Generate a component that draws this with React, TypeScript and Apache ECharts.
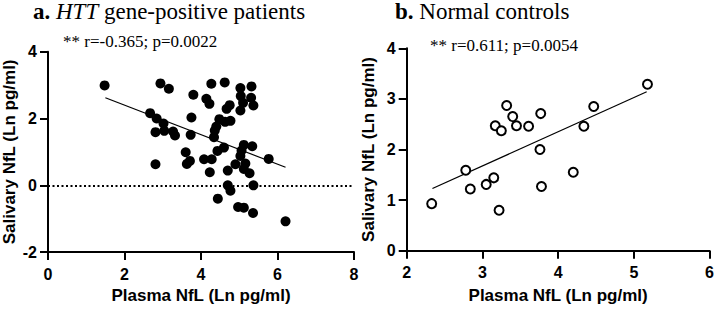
import React, { useEffect, useRef } from "react";
import * as echarts from "echarts";

// Panel a: HTT gene-positive patients (filled points)
const patientsPlasma = [
  1.48, 2.94, 3.16, 2.67, 2.84, 3.02, 2.81, 3.04, 3.27, 3.32, 2.81, 3.6, 3.63, 3.71, 4.08,
  4.28, 4.23, 3.8, 4.27, 4.62, 5.03, 5.32, 4.14, 4.22, 5.04, 5.31, 5.1, 5.37, 4.75, 4.67,
  5.03, 3.75, 4.48, 4.77, 4.63, 4.4, 4.36, 3.73, 4.34, 5.12, 5.34, 4.6, 4.43, 5.06, 5.03,
  5.77, 4.9, 5.16, 5.12, 5.27, 4.7, 4.7, 4.77, 5.37, 4.44, 4.97, 5.12, 5.36, 6.21,
];
const patientsSaliva = [
  2.99, 3.05, 2.89, 2.16, 2.0, 1.85, 1.59, 1.63, 1.61, 1.49, 0.63, 0.99, 0.64, 0.73, 0.78,
  0.78, 0.39, 2.71, 3.04, 3.08, 2.91, 2.96, 2.59, 2.44, 2.67, 2.62, 2.47, 2.39, 2.4, 2.29,
  2.24, 2.03, 1.98, 1.93, 1.9, 1.76, 1.64, 1.51, 1.44, 1.21, 1.17, 1.13, 1.03, 1.04, 0.88,
  0.79, 0.63, 0.65, 0.49, 0.36, 0.44, 0.0, -0.16, 0.0, -0.4, -0.65, -0.67, -0.83, -1.08,
];
const patientsFitX = [1.5, 6.21];
const patientsFitY = [2.62, 0.54];

// Panel b: Normal controls (open points)
const controlsPlasma = [
  2.33, 2.78, 2.84, 3.05, 3.15, 3.22, 3.17, 3.25, 3.32, 3.4, 3.45, 3.61, 3.77, 3.76, 3.78,
  4.2, 4.34, 4.47, 5.18,
];
const controlsSaliva = [
  0.93, 1.59, 1.22, 1.31, 1.44, 0.8, 2.47, 2.37, 2.87, 2.65, 2.47, 2.46, 2.71, 2.0, 1.27,
  1.55, 2.46, 2.85, 3.29,
];
const controlsFitX = [2.34, 5.17];
const controlsFitY = [1.23, 3.14];

const xTicksA = [0, 2, 4, 6, 8];
const yTicksA = [-2, 0, 2, 4];
const xTicksB = [2, 3, 4, 5, 6];
const yTicksB = [0, 1, 2, 3, 4];

const SANS = "Liberation Sans";
const SERIF = "Liberation Serif";

function zip(xs: number[], ys: number[]) {
  return xs.map((x, i) => [x, ys[i]]);
}

function makeAxis(kind: "x" | "y", idx: number, ticks: number[], name: string, gap: number) {
  return {
    type: "value",
    gridIndex: idx,
    min: ticks[0],
    max: ticks[ticks.length - 1],
    interval: ticks[1] - ticks[0],
    name,
    nameLocation: "middle",
    nameGap: gap,
    nameTextStyle: { fontFamily: SANS, fontWeight: "bold", fontSize: 17, color: "#000" },
    axisLine: { show: true, onZero: false, lineStyle: { color: "#000", width: 2 } },
    axisTick: { show: true, length: 8, lineStyle: { color: "#000", width: 2 } },
    axisLabel: {
      fontFamily: SANS,
      fontWeight: "bold",
      fontSize: 16,
      color: "#000",
      margin: kind === "x" ? 14 : 11,
    },
    splitLine: { show: false },
  };
}

export default function App() {
  const ref = useRef<HTMLDivElement>(null);
  useEffect(() => {
    if (!ref.current) return;
    const chart = echarts.init(ref.current, undefined, { renderer: "svg" });
    const serifTitle = (text: string, left: number, top: number, size: number) => ({
      text,
      left,
      top,
      padding: 0,
      textStyle: {
        fontFamily: SERIF,
        fontWeight: "normal",
        fontSize: size,
        color: "#000",
        rich: {
          b: { fontFamily: SERIF, fontWeight: "bold", fontSize: size, color: "#000" },
          i: { fontFamily: SERIF, fontStyle: "italic", fontSize: size, color: "#000" },
          n: { fontFamily: SERIF, fontSize: size, color: "#000" },
        },
      },
    });
    chart.setOption({
      animation: false,
      backgroundColor: "#fff",
      title: [
        serifTitle("{b|a.} {i|HTT}{n| gene-positive patients}", 33, 0, 23),
        serifTitle("{b|b.}{n| Normal controls}", 395, 0, 23),
        serifTitle("** r=-0.365; p=0.0022", 63, 33, 17),
        serifTitle("** r=0.611; p=0.0054", 430, 37, 17),
      ],
      grid: [
        { left: 47, top: 51.7, width: 307, height: 203.5 },
        { left: 406.7, top: 48.3, width: 307.3, height: 202.4 },
      ],
      xAxis: [
        makeAxis("x", 0, xTicksA, "Plasma NfL (Ln pg/ml)", 34),
        makeAxis("x", 1, xTicksB, "Plasma NfL (Ln pg/ml)", 36),
      ],
      yAxis: [
        makeAxis("y", 0, yTicksA, "Salivary NfL (Ln pg/ml)", 30),
        makeAxis("y", 1, yTicksB, "Salivary NfL (Ln pg/ml)", 30),
      ],
      series: [
        {
          type: "scatter",
          xAxisIndex: 0,
          yAxisIndex: 0,
          symbolSize: 10,
          itemStyle: { color: "#000", opacity: 1 },
          data: zip(patientsPlasma, patientsSaliva),
          markLine: {
            silent: true,
            symbol: "none",
            label: { show: false },
            lineStyle: { color: "#000", width: 2, type: [2, 2.5], opacity: 1 },
            data: [{ yAxis: 0 }],
          },
          z: 3,
        },
        {
          type: "line",
          xAxisIndex: 0,
          yAxisIndex: 0,
          symbol: "none",
          lineStyle: { color: "#000", width: 1.2 },
          data: zip(patientsFitX, patientsFitY),
          z: 4,
        },
        {
          type: "scatter",
          xAxisIndex: 1,
          yAxisIndex: 1,
          symbolSize: 9,
          itemStyle: { color: "#fff", borderColor: "#000", borderWidth: 2, opacity: 1 },
          data: zip(controlsPlasma, controlsSaliva),
          z: 3,
        },
        {
          type: "line",
          xAxisIndex: 1,
          yAxisIndex: 1,
          symbol: "none",
          lineStyle: { color: "#000", width: 1.2 },
          data: zip(controlsFitX, controlsFitY),
          z: 2,
        },
      ],
    });
    return () => chart.dispose();
  }, []);
  return (
    <div
      ref={ref}
      style={{ position: "fixed", left: 0, top: 0, width: 717, height: 309, background: "#fff" }}
    />
  );
}
